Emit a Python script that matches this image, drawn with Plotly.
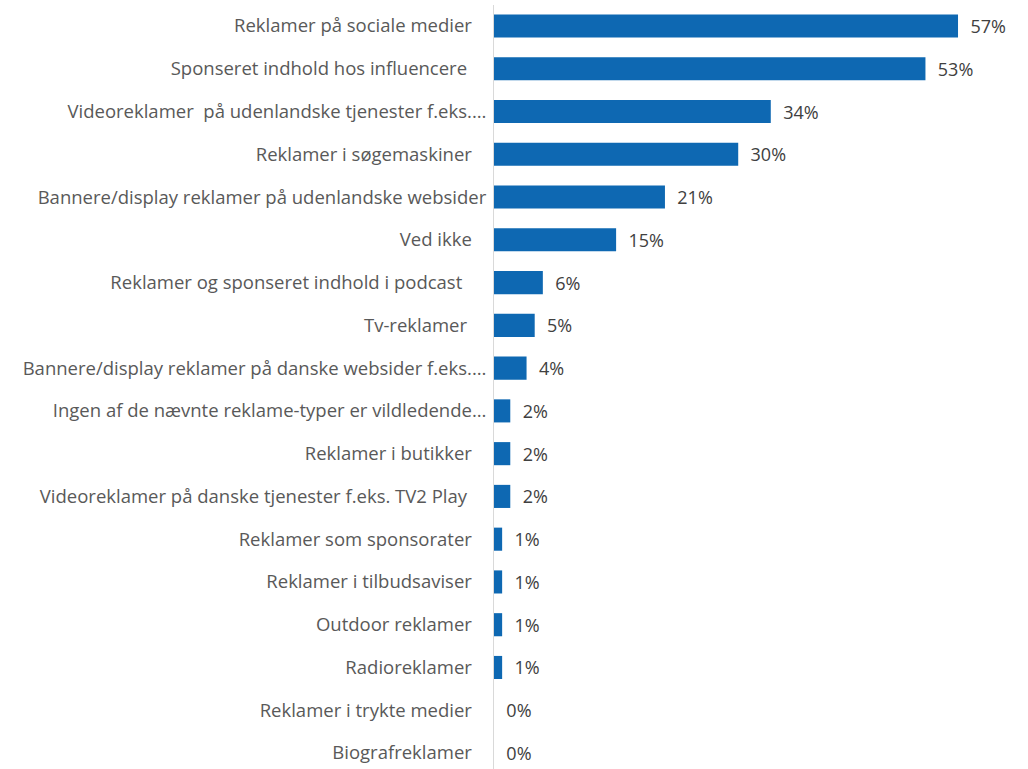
import plotly.graph_objects as go

categories = [
    "Reklamer på sociale medier",
    "Sponseret indhold hos influencere ",
    "Videoreklamer  på udenlandske tjenester f.eks.…",
    "Reklamer i søgemaskiner",
    "Bannere/display reklamer på udenlandske websider",
    "Ved ikke",
    "Reklamer og sponseret indhold i podcast  ",
    "Tv-reklamer ",
    "Bannere/display reklamer på danske websider f.eks.…",
    "Ingen af de nævnte reklame-typer er vildledende…",
    "Reklamer i butikker",
    "Videoreklamer på danske tjenester f.eks. TV2 Play ",
    "Reklamer som sponsorater",
    "Reklamer i tilbudsaviser",
    "Outdoor reklamer",
    "Radioreklamer",
    "Reklamer i trykte medier",
    "Biografreklamer",
]
values = [57, 53, 34, 30, 21, 15, 6, 5, 4, 2, 2, 2, 1, 1, 1, 1, 0, 0]
value_labels = ["57%", "53%", "34%", "30%", "21%", "15%", "6%", "5%", "4%",
                "2%", "2%", "2%", "1%", "1%", "1%", "1%", "0%", "0%"]

FONT = "Open Sans"
FS = 18.5

def pad_label(s):
    core = s.rstrip(" ")
    trail = len(s) - len(core)
    if core.endswith("…") or core.endswith("websider"):
        extra = 0
    else:
        extra = 3
    return core + "\u00a0" * (trail + extra)

ticktext = [pad_label(c) for c in categories]
idx = list(range(len(categories)))

fig = go.Figure()
fig.add_trace(go.Bar(
    x=values,
    y=idx,
    orientation="h",
    width=0.54,
    marker=dict(color="#0E68B2", line=dict(width=0)),
    text=["\u00a0\u00a0" + t for t in value_labels],
    textposition="outside",
    constraintext="none",
    cliponaxis=False,
    textfont=dict(family=FONT, size=18, color="#404040"),
    hoverinfo="skip",
))

fig.update_layout(
    width=1028,
    height=769,
    margin=dict(l=494, r=13, t=5, b=0),
    plot_bgcolor="white",
    paper_bgcolor="white",
    showlegend=False,
    uniformtext=dict(mode=False),
    font=dict(family=FONT, size=FS, color="#595959"),
)
fig.update_xaxes(
    range=[0, 64],
    showgrid=False,
    zeroline=False,
    showticklabels=False,
    showline=False,
)
fig.update_yaxes(
    tickmode="array",
    tickvals=idx,
    ticktext=ticktext,
    range=[17.374, -0.491],
    showgrid=False,
    zeroline=False,
    showline=True,
    linecolor="#D9D9D9",
    linewidth=1,
    ticks="",
    ticklabelstandoff=3,
    tickfont=dict(family=FONT, size=FS, color="#595959"),
)

fig.write_html("out.html")
